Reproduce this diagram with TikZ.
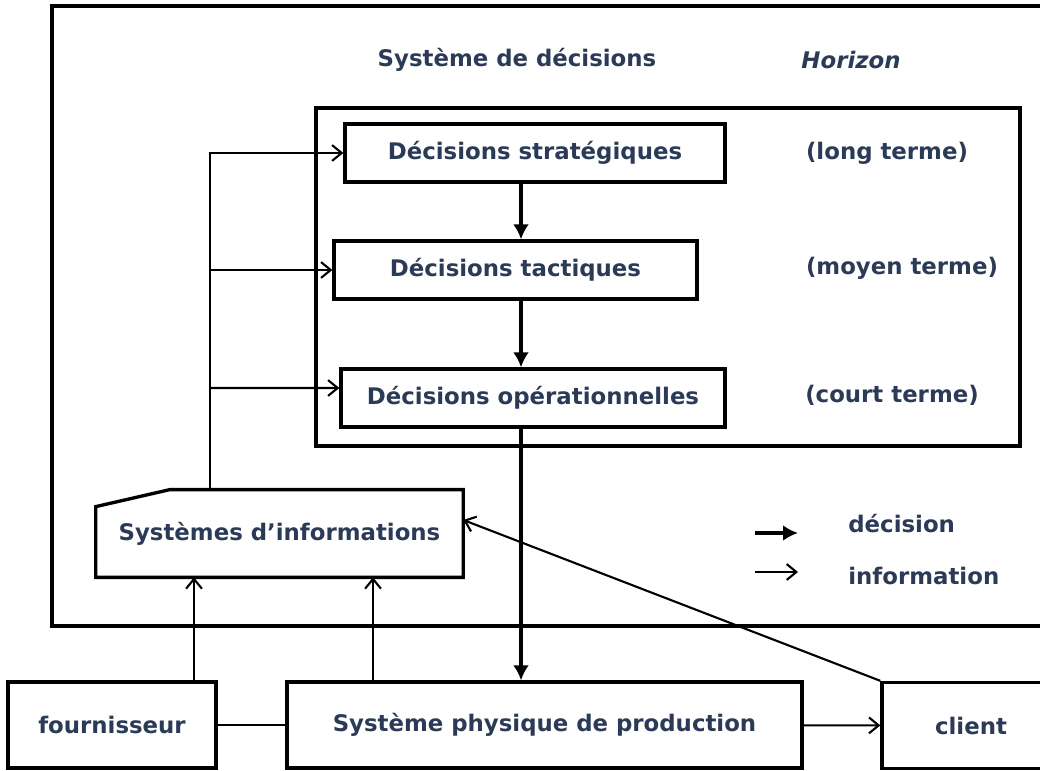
\documentclass[tikz,border=0pt]{standalone}
\usepackage{fontspec}
\setmainfont{DejaVu Sans}
\usepackage{xcolor}
\usetikzlibrary{arrows,arrows.meta}
\definecolor{navy}{HTML}{2B3B57}

\begin{document}
\begin{tikzpicture}[x=0.02cm, y=-0.02cm,
        font=\bfseries\fontsize{13}{15}\selectfont,
        box/.style={draw, line width=1.9pt, inner sep=0pt, text=navy},
        lbl/.style={text=navy, inner sep=0pt},
        info/.style={-{Straight Barb[length=5.5pt, width=9pt, line width=1.2pt]}, line width=1.2pt},
        deci/.style={-{Latex[length=8.5pt, width=9pt]}, line width=1.8pt}]
        \clip (0, 0) rectangle (1040, 770);
        \draw[line width=1.9pt] (52, 6) rectangle (1070, 626);
        \draw[line width=1.9pt] (316, 108) rectangle (1020, 446);

        \node[lbl] (titre) at (517, 60) {Système de décisions};
        \node[lbl] (horizon) at (851, 60) {\itshape Horizon};

        \node[box, minimum width=7.6cm, minimum height=1.16cm] (strat) at (535, 153) {Décisions stratégiques};
        \node[box, minimum width=7.26cm, minimum height=1.16cm] (tact) at (515.5, 270) {Décisions tactiques};
        \node[box, minimum width=7.68cm, minimum height=1.16cm] (oper) at (533, 398) {Décisions opérationnelles};

        \node[lbl] (long) at (887, 153) {(long terme)};
        \node[lbl] (moyen) at (902, 268) {(moyen terme)};
        \node[lbl] (court) at (892, 395) {(court terme)};

        \node[lbl, minimum width=7.34cm, minimum height=1.74cm] (si) at (279.5, 533.5) {\raisebox{-0.16cm}{Systèmes d’informations}};
        \draw[line width=1.9pt] (si.south west) -- ([yshift=-0.34cm]si.north west) -- ([xshift=1.48cm]si.north west)
            -- (si.north east) -- (si.south east) -- cycle;

        \node[lbl, anchor=west] (ldec) at (848, 524) {décision};
        \node[lbl, anchor=west] (linf) at (848, 576) {information};

        \node[box, minimum width=4.16cm, minimum height=1.72cm] (four) at (112, 725) {fournisseur};
        \node[box, minimum width=10.3cm, minimum height=1.72cm] (prod) at (544.5, 725) {Système physique de production};
        \node[box, minimum width=3.56cm, minimum height=1.72cm] (client) at (971, 725.5) {client};

        \coordinate (bus) at (210, 0);
        \coordinate (spine) at (521, 0);
        \coordinate (up1) at (194, 0);
        \coordinate (up2) at (373, 0);

        \draw[info] (si.north -| bus) |- (strat.west);
        \draw[info] (bus |- tact.west) -- (tact.west);
        \draw[info] (bus |- oper.west) ++(0, -10) -- ([yshift=0.2cm]oper.west);

        \draw[deci] (strat.south -| spine) -- (tact.north -| spine);
        \draw[deci] (tact.south -| spine) -- (oper.north -| spine);
        \draw[deci] (oper.south -| spine) -- (prod.north -| spine);

        \draw[line width=1.2pt] (four) -- (prod);
        \draw[info] (prod) -- (client);
        \draw[info] (four.north -| up1) -- (si.south -| up1);
        \draw[info] (prod.north -| up2) -- (si.south -| up2);
        \draw[info] (client.north west) -- ([yshift=0.27cm]si.east);

        \draw[deci] ([xshift=-1.86cm, yshift=-0.18cm]ldec.west) -- ([xshift=-1cm, yshift=-0.18cm]ldec.west);
        \draw[info] ([xshift=-1.86cm, yshift=0.08cm]linf.west) -- ([xshift=-1cm, yshift=0.08cm]linf.west);
\end{tikzpicture}
\end{document}
